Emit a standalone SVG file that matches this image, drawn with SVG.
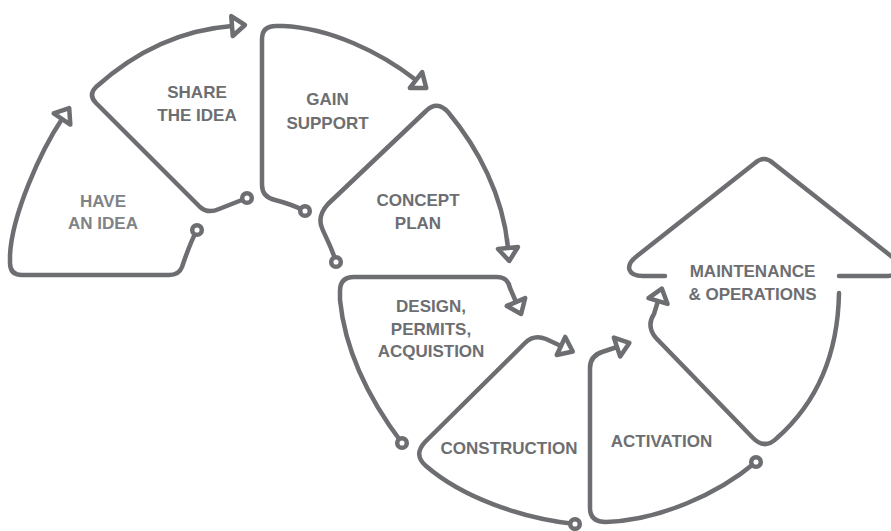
<svg xmlns="http://www.w3.org/2000/svg" width="891" height="531" viewBox="0 0 891 531">
<style>
.o{fill:none;stroke:#6d6e71;stroke-width:4.5;stroke-linecap:round;stroke-linejoin:round}
.a{marker-end:url(#arr)}
.c{fill:#fff;stroke:#6d6e71;stroke-width:4.5}
.t{font-family:"Liberation Sans",Arial,sans-serif;font-weight:bold;font-size:17px;fill:#6d6e71;text-anchor:middle}
.l{fill:#808285}
</style>
<defs>
<marker id="arr" markerUnits="userSpaceOnUse" viewBox="-3 -13 19 26" markerWidth="19" markerHeight="26" refX="0" refY="0" orient="auto" overflow="visible">
<path d="M0,-10 L13,0 L0,10 Z" fill="#fff" stroke="#6d6e71" stroke-width="4.5" stroke-linejoin="round"/>
</marker>
</defs>
<rect width="891" height="531" fill="#fff"/>
<g id="connectors"></g>
<g id="node-have-idea">
<path class="o a" d="M197,230 C190,243 185,258 182,267 Q179,275 169,275 L22,275 Q10,275 10,263 L10,255 C12,215 40,152 62,119"/>
<circle class="c" cx="197" cy="230" r="4.8"/>
<text class="t l" x="103" y="207">HAVE</text>
<text class="t l" x="103" y="229">AN IDEA</text>
</g>
<g id="node-share-idea">
<path class="o a" d="M247,198 L219,209 Q208,214 200,207 L96,103 Q88,95 96,87 C135,52 180,30 232,26"/>
<circle class="c" cx="247" cy="198" r="4.8"/>
<text class="t" x="197" y="98">SHARE</text>
<text class="t" x="197" y="120.5">THE IDEA</text>
</g>
<g id="node-gain-support">
<path class="o a" d="M305,211 C293,205 283,202 275,200 Q262,197 262,185 L262,39 Q262,26 276,26 L283,26 C330,28 380,52 416,80"/>
<circle class="c" cx="305" cy="211" r="4.8"/>
<text class="t" x="327.5" y="105">GAIN</text>
<text class="t" x="327.5" y="128.5">SUPPORT</text>
</g>
<g id="node-concept-plan">
<path class="o a" d="M336,262 C332,248 326,238 322,228 Q317,216 328,204 L426,111 Q437,100 448,112 C478,148 503,195 508,248"/>
<circle class="c" cx="336" cy="262" r="4.8"/>
<text class="t" x="418" y="206">CONCEPT</text>
<text class="t" x="418" y="229">PLAN</text>
</g>
<g id="node-design">
<path class="o a" d="M402,443 C368,398 345,350 340,300 L340,291 Q340,277 354,277 L497,277 Q508,277 510,288 L516,302"/>
<circle class="c" cx="402" cy="443" r="4.8"/>
<text class="t" x="431" y="312">DESIGN,</text>
<text class="t" x="431" y="334.5">PERMITS,</text>
<text class="t" x="431" y="357">ACQUISTION</text>
</g>
<g id="node-construction">
<path class="o a" d="M575,524 C520,518 462,497 426,466 Q413,455 425,442 L525,343 Q534,334 546,339 L561,346"/>
<circle class="c" cx="575" cy="524" r="4.8"/>
<text class="t" x="509" y="454">CONSTRUCTION</text>
</g>
<g id="node-activation">
<path class="o a" d="M756,462 C718,494 660,520 606,522 Q590,522 590,508 L590,368 Q590,356 602,352 L617,347"/>
<circle class="c" cx="756" cy="462" r="4.8"/>
<text class="t" x="661.5" y="447">ACTIVATION</text>
</g>
<g id="node-maintenance">
<path class="o" d="M665,276 L643,276 C628,276 624,266 637,256 L755,163 Q764,155 773,163 L891,256 C904,266 900,276 885,276 L839,276"/>
<path class="o a" d="M839,293 C838,350 820,400 777,438 Q765,450 753,438 L656,338 Q646,326 654,314 L658,301"/>
<text class="t" x="752.5" y="277">MAINTENANCE</text>
<text class="t" x="752.5" y="299.5">&amp; OPERATIONS</text>
</g>
</svg>
